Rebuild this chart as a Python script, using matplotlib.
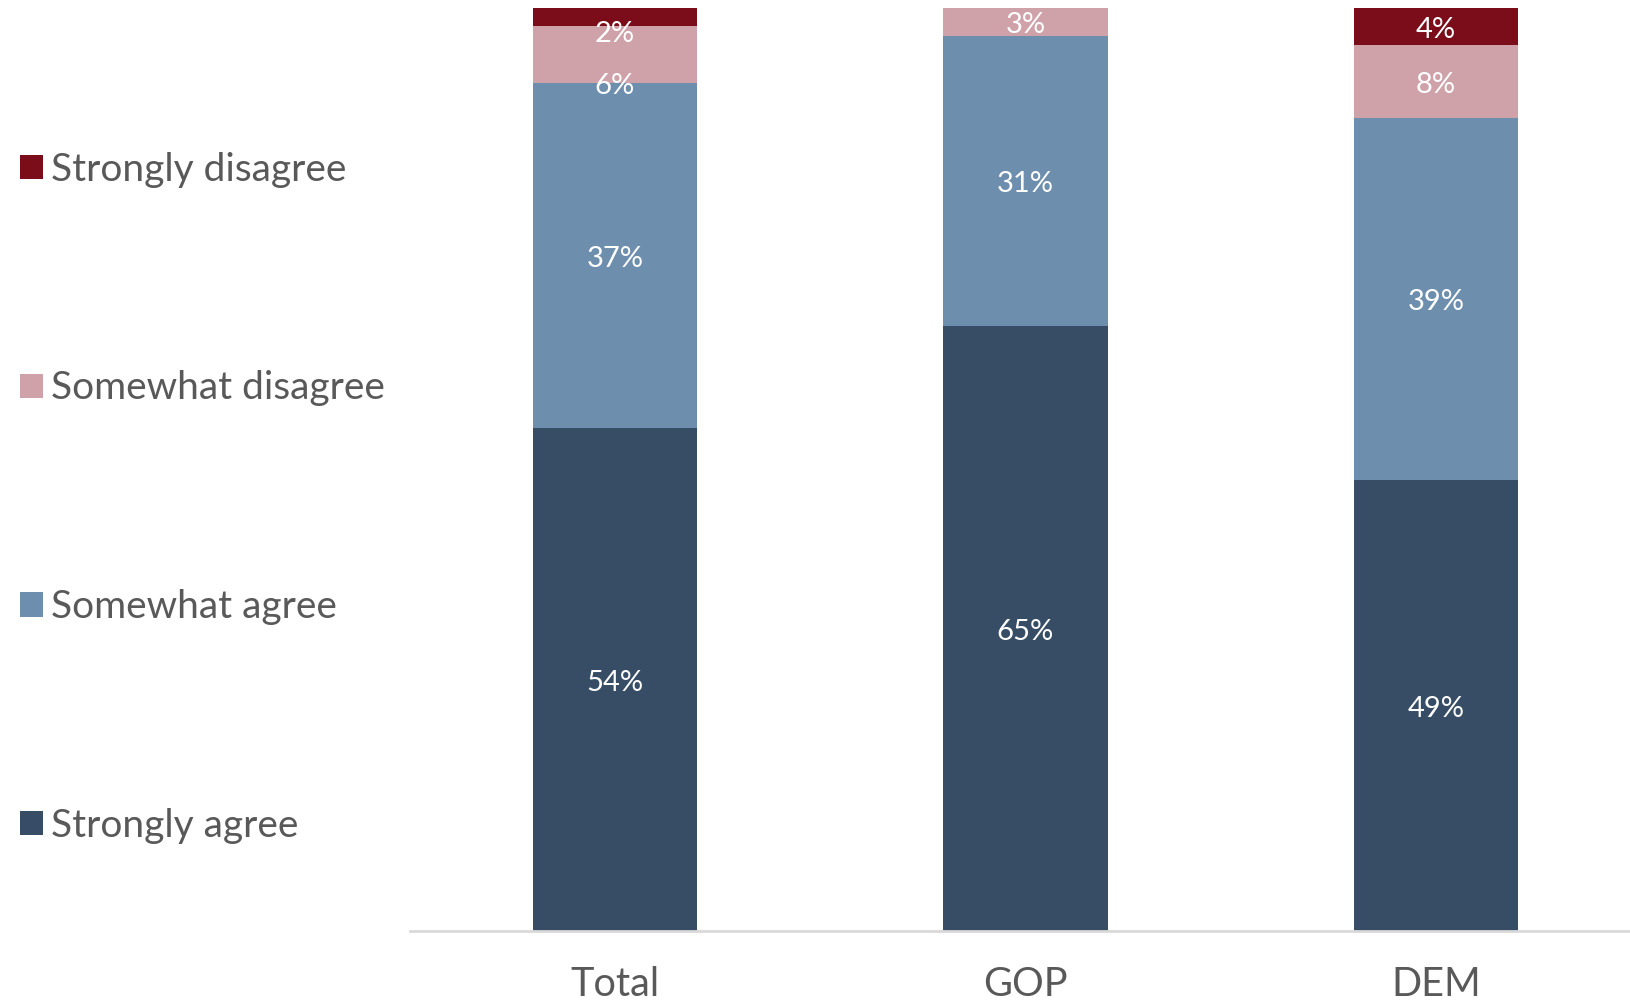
import numpy as np
import matplotlib
matplotlib.use('Agg')
import matplotlib.pyplot as plt
from matplotlib.patches import Patch

groups = ['Total', 'GOP', 'DEM']
series = ['Strongly agree', 'Somewhat agree', 'Somewhat disagree', 'Strongly disagree']
strongly_agree = [54.5, 65.5, 48.9]
somewhat_agree = [37.4, 31.5, 39.2]
somewhat_disagree = [6.1, 3.0, 7.9]
strongly_disagree = [2.0, 0.0, 4.0]
shown = [[54, 65, 49], [37, 31, 39], [6, 3, 8], [2, None, 4]]
colors = ['#364d65', '#6e8eae', '#cfa2aa', '#7b0c1a']
# excel nudged two crowded labels on the Total bar
nudge = {(2, 0): -3.1, (3, 0): -1.5}

plt.rcParams['font.family'] = ['Lato', 'DejaVu Sans']

fig = plt.figure(figsize=(16.31, 10.01), dpi=100)
ax = fig.add_axes([410 / 1631, 70 / 1001, 1 - 410 / 1631, 923 / 1001])

x = np.arange(len(groups))
bottom = np.zeros(len(groups))
handles = []
for i, vals in enumerate([strongly_agree, somewhat_agree, somewhat_disagree, strongly_disagree]):
    vals = np.array(vals)
    ax.bar(x, vals, width=0.40, bottom=bottom, color=colors[i], edgecolor='none')
    for j in range(len(groups)):
        if shown[i][j] is None:
            continue
        y = bottom[j] + vals[j] / 2 + nudge.get((i, j), 0)
        ax.annotate(f'{shown[i][j]}%', (x[j], y), xytext=(0, -2.3),
                    textcoords='offset points', ha='center', va='center',
                    color='white', fontsize=21)
    bottom += vals
    handles.append(Patch(facecolor=colors[i], label=series[i]))

ax.set_xlim(-0.499, 2.475)
ax.set_ylim(0, 100)
ax.set_xticks(x)
ax.set_xticklabels(groups, fontsize=28.5, color='#595959')
ax.tick_params(axis='x', length=0, pad=25)
ax.set_yticks([])
for s in ['top', 'right', 'left']:
    ax.spines[s].set_visible(False)
ax.spines['bottom'].set_color('#d9d9d9')
ax.spines['bottom'].set_linewidth(2)

fig.legend(handles=handles[::-1], loc='upper left', bbox_to_anchor=(0.003, 0.864),
           frameon=False, fontsize=28, labelcolor='#595959',
           handlelength=0.58, handleheight=0.58, handletextpad=0.2,
           labelspacing=4.7, borderaxespad=0)

fig.savefig('out.png', dpi=100)
